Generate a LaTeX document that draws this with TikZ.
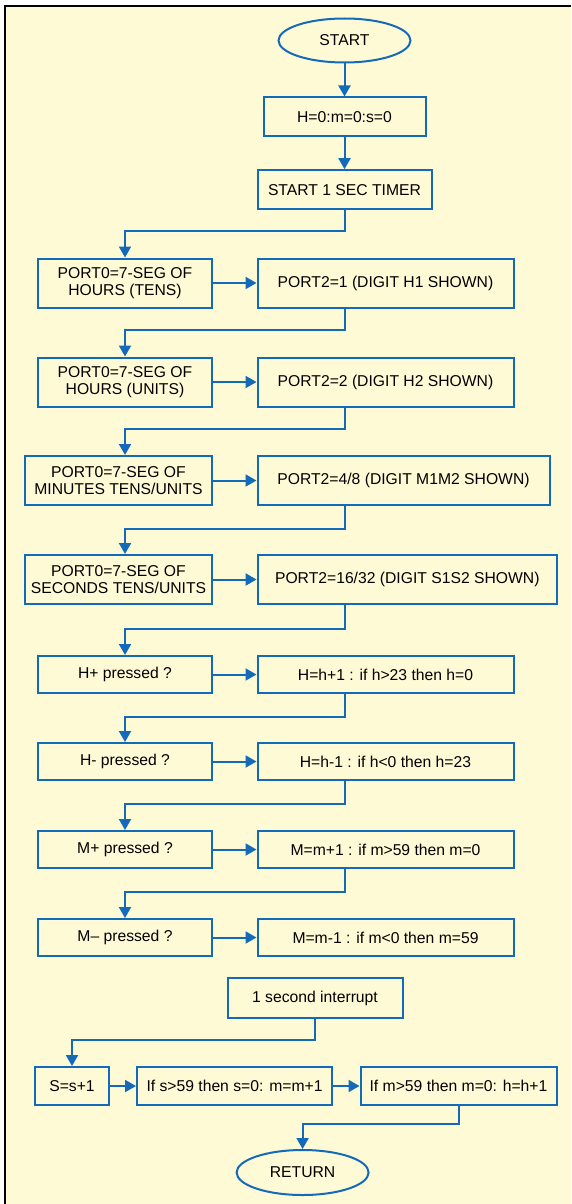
\documentclass[tikz,border=0pt]{standalone}
\usepackage{fontspec}
\setmainfont{Liberation Sans}
\usetikzlibrary{shapes.geometric,arrows.meta}
\definecolor{bg}{RGB}{255,250,214}
\definecolor{fc}{RGB}{18,106,184}
\newcommand\diagfont{\fontsize{15.7}{17}\selectfont}
\begin{document}
\begin{tikzpicture}[x=1pt,y=-1pt,
  box/.style={draw=fc, line width=2pt, rectangle, inner sep=0pt, align=center, font=\diagfont},
  term/.style={draw=fc, line width=2pt, ellipse, inner sep=0pt, font=\diagfont},
  arr/.style={draw=fc, line width=2pt, -{Triangle[length=11pt,width=12pt]}}]
\useasboundingbox (0,0) rectangle (571,1204);
\fill[bg] (4.5,6) rectangle (571,1204);
\draw[black, line width=2pt] (4.5,1204) -- (4.5,6) -- (571,6);

\node[term, minimum width=132pt, minimum height=44pt] (start) at (344.5,40.5) {START};
\node[box, minimum width=162pt, minimum height=39pt] (init) at (344.5,117) {H=0:m=0:s=0};
\node[box, minimum width=174pt, minimum height=39pt] (timer) at (344.5,189.7) {START 1 SEC TIMER};

\node[box, minimum width=174pt, minimum height=49pt] (l1) at (125,283) {PORT0=7-SEG OF\\HOURS (TENS)};
\node[box, minimum width=256pt, minimum height=49pt] (r1) at (385.5,283) {PORT2=1 (DIGIT H1 SHOWN)};
\node[box, minimum width=174pt, minimum height=49pt] (l2) at (125,382) {PORT0=7-SEG OF\\HOURS (UNITS)};
\node[box, minimum width=256pt, minimum height=49pt] (r2) at (385.5,382) {PORT2=2 (DIGIT H2 SHOWN)};
\node[box, minimum width=187pt, minimum height=49pt] (l3) at (118.5,480.5) {PORT0=7-SEG OF\\MINUTES TENS/UNITS};
\node[box, minimum width=292pt, minimum height=49pt] (r3) at (403.5,480.5) {PORT2=4/8 (DIGIT M1M2 SHOWN)};
\node[box, minimum width=187pt, minimum height=49pt] (l4) at (118.5,579.5) {PORT0=7-SEG OF\\SECONDS TENS/UNITS};
\node[box, minimum width=299.5pt, minimum height=49pt] (r4) at (407.3,579.5) {PORT2=16/32 (DIGIT S1S2 SHOWN)};

\node[box, minimum width=174pt, minimum height=37pt] (l5) at (125,674.5) {H+ pressed ?};
\node[box, minimum width=256pt, minimum height=37pt] (r5) at (385.5,674.5) {H=h+1 : if h>23 then h=0};
\node[box, minimum width=174pt, minimum height=37pt] (l6) at (125,761.5) {H- pressed ?};
\node[box, minimum width=256pt, minimum height=37pt] (r6) at (385.5,761.5) {H=h-1 : if h<0 then h=23};
\node[box, minimum width=174pt, minimum height=37pt] (l7) at (125,849.5) {M+ pressed ?};
\node[box, minimum width=256pt, minimum height=37pt] (r7) at (385.5,849.5) {M=m+1 : if m>59 then m=0};
\node[box, minimum width=174pt, minimum height=37pt] (l8) at (125,937.5) {M– pressed ?};
\node[box, minimum width=256pt, minimum height=37pt] (r8) at (385.5,937.5) {M=m-1 : if m<0 then m=59};

\node[box, minimum width=175pt, minimum height=40pt] (intr) at (315,998) {1 second interrupt};
\node[box, minimum width=74.4pt, minimum height=38pt] (s1) at (72,1086) {S=s+1};
\node[box, minimum width=195pt, minimum height=38pt] (s2) at (234.5,1086) {If s>59 then s=0: m=m+1};
\node[box, minimum width=196pt, minimum height=38pt] (s3) at (458.5,1086) {If m>59 then m=0: h=h+1};
\node[term, minimum width=132pt, minimum height=45pt] (ret) at (302.6,1172.5) {RETURN};

\draw[arr] (start) -- (init);
\draw[arr] (init) -- (timer);
\draw[arr] (timer.south) -- ++(0,21) -| (l1.north);
\draw[arr] (l1) -- (r1);
\draw[arr] (r1.south -| timer.south) -- ++(0,21.6) -| (l2.north);
\draw[arr] (l2) -- (r2);
\draw[arr] (r2.south -| timer.south) -- ++(0,21.6) -| (l3.north -| l1.north);
\draw[arr] (l3) -- (r3);
\draw[arr] (r3.south -| timer.south) -- ++(0,22.5) -| (l4.north -| l1.north);
\draw[arr] (l4) -- (r4);
\draw[arr] (r4.south -| timer.south) -- ++(0,23.7) -| (l5.north);
\draw[arr] (l5) -- (r5);
\draw[arr] (r5.south -| timer.south) -- ++(0,23) -| (l6.north);
\draw[arr] (l6) -- (r6);
\draw[arr] (r6.south -| timer.south) -- ++(0,23) -| (l7.north);
\draw[arr] (l7) -- (r7);
\draw[arr] (r7.south -| timer.south) -- ++(0,22.7) -| (l8.north);
\draw[arr] (l8) -- (r8);

\draw[arr] (intr.south) -- ++(0,21) -| (s1.north);
\draw[arr] (s1) -- (s2);
\draw[arr] (s2) -- (s3);
\draw[arr] (s3.south) -- ++(0,18) -| (ret.north);
\end{tikzpicture}
\end{document}
